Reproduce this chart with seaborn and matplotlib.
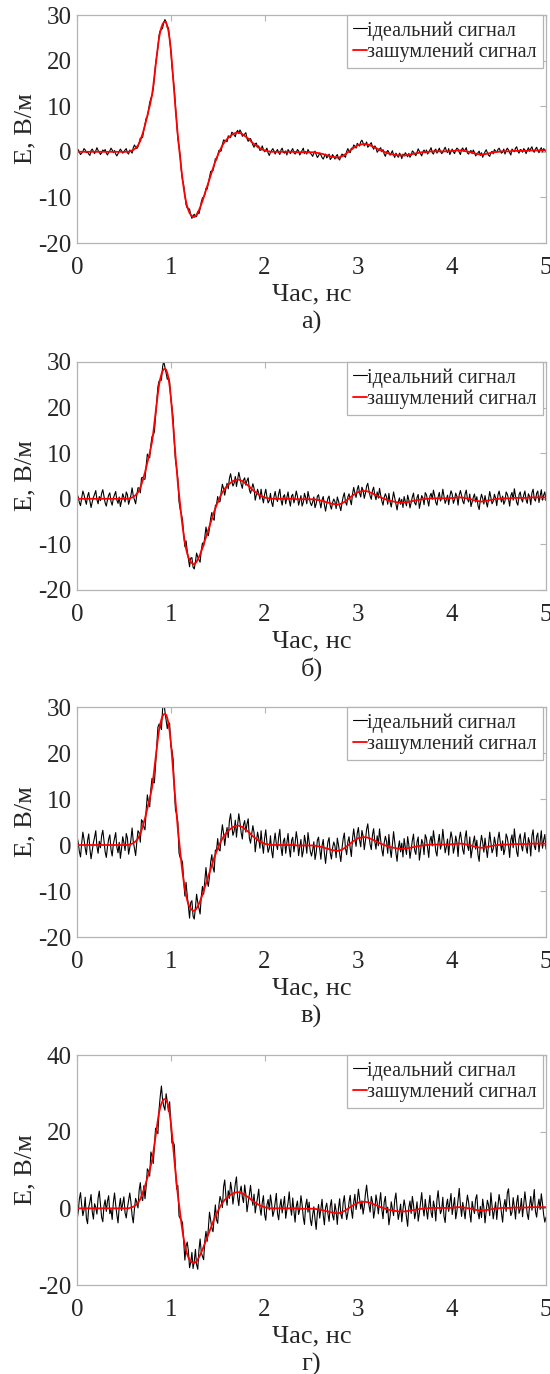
import numpy as np
import pandas as pd
import matplotlib
matplotlib.use("Agg")
import matplotlib.pyplot as plt
import seaborn as sns

# ---------------- data ----------------
# sampling grid of the recorded signals (0 ... 5 ns, 401 samples)
time_ns = np.linspace(0.0, 5.0, 401)

# smooth (red) trace, E in V/m
smooth_signal = (
    [0.0] * 45 + [0.1] +
    [0.2, 0.3, 0.4, 0.6, 0.8, 1.1, 1.4, 1.9, 2.4, 3.2,
     4.0, 4.9, 5.8, 6.9, 8.0, 9.0, 10.0, 11.2, 12.5, 14.4,
     16.5, 18.8, 21.0, 23.1, 25.0, 26.3, 27.3, 28.0, 28.4, 28.5,
     28.3, 27.6, 26.5, 24.7, 22.5, 19.4, 16.0, 12.8, 9.5, 6.5,
     3.5, 1.0, -1.5, -3.8, -6.0, -7.9, -9.6, -10.9, -12.0, -12.8,
     -13.4, -13.8, -14.1, -14.3, -14.3, -14.1, -13.8, -13.3, -12.8, -12.2,
     -11.5, -10.8, -10.0, -9.2, -8.4, -7.6, -6.8, -6.0, -5.2, -4.4,
     -3.6, -2.8, -2.1, -1.4, -0.8, -0.2, 0.4, 0.9, 1.4, 1.8,
     2.2, 2.5, 2.8, 3.1, 3.3, 3.5, 3.7, 3.9, 4.0, 4.1,
     4.2, 4.2, 4.2, 4.1, 4.0, 3.9, 3.7, 3.5, 3.3, 3.1,
     2.9, 2.7, 2.4, 2.1, 1.9, 1.7, 1.5, 1.3, 1.1, 0.9,
     0.8, 0.6, 0.5, 0.4, 0.3, 0.2, 0.2, 0.1, 0.1, 0.0,
     0.0] +
    [0.0] * 20 + [-0.1] * 14 +
    [-0.1, -0.1, -0.15, -0.2, -0.25, -0.3, -0.35, -0.4, -0.45, -0.5,
     -0.6, -0.7, -0.75, -0.8, -0.9, -1.0, -1.05, -1.1, -1.15, -1.2,
     -1.25, -1.3, -1.25, -1.2, -1.1, -1.0, -0.85, -0.7, -0.5, -0.3,
     -0.1, 0.1, 0.3, 0.5, 0.7, 0.9, 1.05, 1.2, 1.35, 1.5,
     1.55, 1.6, 1.65, 1.7, 1.7, 1.7, 1.65, 1.6, 1.5, 1.4,
     1.3, 1.2, 1.05, 0.9, 0.8, 0.7, 0.55, 0.4, 0.3, 0.2,
     0.1, 0.0, -0.1, -0.2, -0.3, -0.4, -0.45, -0.5, -0.55, -0.6,
     -0.65, -0.7, -0.75, -0.8, -0.8, -0.8, -0.8, -0.8, -0.8, -0.8,
     -0.75, -0.7, -0.65, -0.6, -0.55, -0.5, -0.45, -0.4, -0.35, -0.3,
     -0.25, -0.2, -0.15, -0.1, -0.1, -0.1, -0.05, 0.0, 0.0, 0.0] +
    [0.1] * 18 + [0.15, 0.2] +
    [0.2, 0.2, 0.25, 0.3, 0.3, 0.3, 0.3, 0.3, 0.25, 0.2,
     0.15, 0.1, 0.05, 0.0, -0.05, -0.1, -0.2, -0.3, -0.35, -0.4,
     -0.45, -0.5, -0.55, -0.6, -0.6, -0.6, -0.55, -0.5, -0.45, -0.4,
     -0.35, -0.3, -0.25, -0.2, -0.15, -0.1, -0.05, 0.0, 0.0, 0.0] +
    [0.1] * 10 + [0.2] * 14 + [0.3] * 16
)

# deviation of the black (noisy) trace from the red one, per panel (V/m)
noise_a = [
    0.2, 0.5, -0.1, -0.6, -0.3, 0.1, 0.7, 0.4, -0.2, 0.0, -0.5, -0.8, 0.3, 0.6, 0.1, -0.4, 0.2, 0.9, 0.3, -0.1,
    -0.6, -0.2, 0.4, 0.1, 0.5, -0.3, -0.7, -0.1, 0.2, 0.8, 0.4, -0.2, 0.3, -0.5, -0.9, -0.4, 0.1, 0.6, 0.2, -0.3,
    0.0, 0.4, 0.7, -0.2, -0.5, 0.3, -0.1, -0.6, 0.5, 0.9, 0.2, -0.4, -0.3, 0.1, 0.6, -0.2, -0.8, -0.1, 0.3, 0.5,
    -0.4, 0.2, 0.8, 0.5, -0.1, -0.7, -0.3, 0.4, 0.1, -0.2, 0.6, 0.3, -0.5, -0.9, 0.0, 0.5, 0.2, -0.3, 0.7, 0.1,
    -0.2, -0.6, 0.3, 0.9, 0.4, -0.1, -0.5, 0.2, 0.6, -0.4, -0.2, 0.5, 0.1, -0.7, -0.3, 0.4, 0.8, 0.0, -0.5, 0.3,
    0.6, -0.1, -0.4, 0.2, -0.8, -0.3, 0.5, 0.7, 0.1, -0.2, 0.4, -0.6, -0.1, 0.3, 0.9, 0.2, -0.5, -0.2, 0.6, -0.4,
    0.1, 0.5, -0.3, -0.7, 0.2, 0.8, 0.3, -0.1, -0.6, 0.4, 0.0, -0.4, 0.6, 0.2, -0.3, -0.8, 0.1, 0.5, -0.2, 0.7,
    0.3, -0.5, -0.1, 0.4, 0.9, -0.2, -0.6, 0.1, 0.5, 0.2, -0.4, -0.7, 0.3, 0.6, -0.1, 0.4, -0.5, -0.2, 0.8, 0.1,
    -0.3, 0.2, 0.6, -0.4, -0.9, -0.1, 0.3, 0.7, 0.2, -0.5, 0.1, 0.5, -0.2, -0.6, 0.4, 0.8, -0.1, -0.3, 0.2, -0.7,
    0.5, 0.1, -0.4, 0.3, 0.7, -0.2, -0.5, 0.0, 0.6, 0.3, -0.6, -0.1, 0.4, 0.9, -0.3, 0.2, -0.4, 0.6, 0.1, -0.2,
    -0.5, -0.9, -0.2, 0.3, -0.4, -1.0, -0.6, 0.1, -0.3, -0.8, -1.1, -0.4, 0.2, -0.6, -0.2, 0.4, -0.7, -0.3, 0.5, 0.1,
    -0.4, 0.3, 0.7, -0.2, -0.6, 0.1, 0.5, 0.2, -0.3, -0.7, 0.4, 0.8, 0.0, -0.5, 0.3, -0.1, 0.6, 0.2, -0.4, 0.5,
    0.1, -0.3, 0.6, 0.9, 0.2, -0.4, -0.1, 0.5, -0.6, -0.2, 0.3, 0.7, -0.1, -0.5, 0.4, 0.1, -0.8, -0.3, 0.2, 0.6,
    -0.2, 0.4, -0.5, -0.9, 0.1, 0.6, 0.3, -0.3, 0.2, 0.8, -0.1, -0.6, 0.4, 0.0, -0.4, 0.5, 0.2, -0.7, 0.3, -0.1,
    0.6, 0.2, -0.4, 0.3, -0.6, -0.2, 0.7, 0.4, -0.1, -0.5, 0.2, 0.9, 0.3, -0.3, -0.8, 0.1, 0.5, -0.2, 0.4, -0.5,
    -0.1, 0.3, 0.8, -0.3, -0.6, 0.2, 0.5, -0.4, 0.1, 0.7, 0.0, -0.5, -0.2, 0.4, 0.9, 0.2, -0.3, 0.6, -0.7, -0.1,
    0.4, -0.2, -0.6, 0.1, 0.5, 0.3, -0.4, -0.9, 0.2, 0.6, -0.1, 0.3, 0.8, -0.3, -0.5, 0.1, 0.4, -0.2, 0.7, 0.2,
    -0.5, -0.1, 0.3, 0.7, -0.2, 0.4, -0.6, 0.0, 0.5, 0.9, 0.2, -0.4, -0.7, 0.1, 0.3, -0.3, 0.6, 0.2, -0.1, 0.5,
    0.8, 0.1, -0.4, -0.2, 0.5, -0.6, 0.2, 0.7, 0.3, -0.3, -0.8, 0.4, 0.1, -0.2, 0.6, 0.9, -0.1, -0.5, 0.3, 0.2,
    -0.3, 0.5, 0.2, -0.6, 0.1, 0.6, -0.2, 0.4, 0.8, -0.1, -0.4, 0.3, 0.7, 0.0, -0.5, 0.2, 0.6, -0.3, 0.4, 0.1,
    -0.2,
]
noise_b = [
    1.1, 0.4, -0.8, -1.5, 0.2, 1.7, 0.9, -0.3, -1.2, 0.6, 1.4, -0.5, -1.9, -0.7, 0.3, 1.0, 1.8, -0.2, -1.1, 0.5,
    -0.4, 1.2, 2.0, 0.6, -0.9, -1.6, -0.2, 0.8, 1.3, -0.6, -1.4, 0.1, 0.9, 1.6, -0.3, -1.0, 0.4, -1.7, -0.5, 1.1,
    0.3, -0.7, 1.5, 0.9, -1.2, -0.4, 0.6, 2.1, 0.2, -0.8, -1.9, -0.3, 1.0, 0.5, -1.1, 1.4, 0.7, -0.6, -1.5, 0.4,
    1.8, 0.2, -1.0, 0.6, 1.2, -0.5, -1.8, -0.9, 0.4, 1.5, 0.8, -0.2, -1.3, 0.9, 1.9, 0.3, -0.7, -1.4, 0.1, 1.0,
    -0.6, 0.7, 1.6, -0.4, -1.2, 0.2, 0.9, -1.6, -0.8, 0.5, 1.3, 0.1, -0.9, 1.7, 0.6, -0.3, -1.5, 0.8, 1.2, -0.7,
    -1.1, 0.3, 1.9, 0.5, -0.6, -1.7, 0.2, 1.1, -0.4, 0.8, 2.2, -0.1, -1.3, -0.5, 0.9, 1.4, -0.8, -1.9, 0.6, 0.2,
    1.3, -0.5, -1.0, 0.7, 1.8, 0.4, -1.4, -0.2, 0.6, -0.9, 1.2, 2.0, 0.3, -1.1, -0.6, 0.8, -1.5, 0.1, 1.6, 0.5,
    -0.8, -1.6, 0.4, 1.1, -0.3, 0.9, 1.7, -0.7, -1.2, 0.2, 1.4, 0.6, -1.8, -0.4, 1.0, 0.3, -0.9, 1.5, -0.2, -1.3,
    0.7, 1.9, 0.2, -1.0, -0.5, 1.2, -0.8, -1.7, 0.4, 1.6, 0.1, -0.6, 1.1, 2.1, -0.3, -1.4, 0.5, 0.9, -1.1, 0.3,
    1.5, -0.4, -1.6, 0.6, 1.0, -0.9, 0.2, 1.8, 0.7, -1.3, -0.2, 0.8, -1.5, -0.7, 1.3, 0.4, -1.0, 1.7, 0.5, -0.8,
    -1.4, -0.6, 0.5, -1.8, -0.9, 0.8, 1.2, -0.3, -1.6, 0.2, 1.0, -0.7, -2.0, -0.4, 0.9, 1.5, -0.5, -1.2, 0.3, 1.1,
    0.6, -0.9, 1.7, 0.8, -0.4, -1.5, 0.1, 1.3, 2.0, -0.2, -1.1, 0.5, 1.0, -0.6, -1.8, 0.4, 1.6, 0.2, -0.9, 0.7,
    1.4, -0.3, -1.2, 0.9, 0.2, -1.6, -0.5, 1.1, 1.8, 0.3, -0.8, -1.4, 0.6, 1.5, -0.1, -1.0, 0.8, -0.4, 1.9, 0.5,
    -0.7, -1.5, 0.3, 1.2, 0.6, -0.9, 1.6, -0.2, -1.3, 0.4, 2.1, 0.8, -0.6, -1.7, 0.1, 1.0, -0.4, 0.7, -1.1, 1.3,
    0.2, -0.8, 1.5, 0.4, -1.4, -0.3, 0.9, 1.7, -0.5, -1.0, 0.6, 1.2, -1.9, -0.7, 0.8, 0.3, -1.2, 1.4, 0.9, -0.4,
    -1.6, 0.5, 1.1, -0.2, 1.8, 0.6, -0.9, -1.5, 0.3, 1.3, -0.6, 0.1, 2.0, 0.4, -1.1, -0.3, 0.7, -1.4, 0.5, 1.6,
    0.8, -1.2, -0.4, 1.0, 0.2, -1.7, 0.6, 1.5, 0.4, -0.8, -1.3, 0.9, 1.8, -0.1, -0.7, 1.1, -1.6, -0.5, 0.6, 1.4,
    -0.3, 0.9, -1.0, -1.8, 0.4, 1.6, 0.7, -0.6, 1.2, -0.2, -1.4, 0.3, 1.9, 0.5, -0.9, -0.4, 1.1, 0.2, -1.5, 0.8,
    1.7, 0.3, -0.8, 0.5, -1.3, -0.6, 1.4, 0.9, -0.1, -1.7, 0.6, 1.2, -0.5, 2.0, 0.4, -1.0, -1.6, 0.7, 1.3, -0.2,
    -0.9, 0.6, 1.5, -0.4, -1.2, 0.8, 0.2, -1.6, 1.0, 1.8, -0.3, -0.8, 0.9, 1.4, -1.1, 0.3, 1.7, -0.6, 0.5, 1.2,
    -0.7,
]
noise_c = [
    1.9, 0.6, -1.4, -2.6, 0.4, 2.8, 1.2, -0.7, -2.1, 1.0, 2.4, -0.9, -3.0, -1.2, 0.5, 1.7, 3.1, -0.3, -1.8, 0.8,
    -0.6, 2.0, 3.2, 1.0, -1.5, -2.7, -0.4, 1.3, 2.2, -1.0, -2.4, 0.2, 1.5, 2.7, -0.5, -1.7, 0.6, -2.9, -0.8, 1.8,
    0.5, -1.2, 2.5, 1.5, -2.0, -0.7, 1.0, 3.4, 0.3, -1.3, -3.1, -0.5, 1.7, 0.8, -1.8, 2.3, 1.1, -1.0, -2.5, 0.7,
    2.9, 0.3, -1.7, 1.0, 2.0, -0.8, -3.0, -1.5, 0.6, 2.5, 1.3, -0.3, -2.2, 1.5, 3.1, 0.5, -1.2, -2.3, 0.2, 1.7,
    -1.0, 1.2, 2.6, -0.7, -2.0, 0.3, 1.5, -2.7, -1.3, 0.8, 2.2, 0.2, -1.5, 2.8, 1.0, -0.5, -2.5, 1.3, 2.0, -1.2,
    -1.8, 0.5, 3.1, 0.8, -1.0, -2.8, 0.3, 1.8, -0.7, 1.3, 3.5, -0.2, -2.2, -0.8, 1.5, 2.3, -1.3, -3.1, 1.0, 0.3,
    2.2, -0.8, -1.7, 1.2, 3.0, 0.7, -2.3, -0.3, 1.0, -1.5, 2.0, 3.3, 0.5, -1.8, -1.0, 1.3, -2.5, 0.2, 2.6, 0.8,
    -1.3, -2.6, 0.7, 1.8, -0.5, 1.5, 2.8, -1.2, -2.0, 0.3, 2.3, 1.0, -3.0, -0.7, 1.7, 0.5, -1.5, 2.5, -0.3, -2.2,
    1.2, 3.1, 0.3, -1.7, -0.8, 2.0, -1.3, -2.8, 0.7, 2.6, 0.2, -1.0, 1.8, 3.4, -0.5, -2.3, 0.8, 1.5, -1.8, 0.5,
    2.5, -0.7, -2.6, 1.0, 1.7, -1.5, 0.3, 3.0, 1.2, -2.2, -0.3, 1.3, -2.5, -1.2, 2.2, 0.7, -1.7, 2.8, 0.8, -1.3,
    -2.3, -1.0, 0.8, -3.0, -1.5, 1.3, 2.0, -0.5, -2.7, 0.3, 1.7, -1.2, -3.3, -0.7, 1.5, 2.5, -0.8, -2.0, 0.5, 1.8,
    1.0, -1.5, 2.8, 1.3, -0.7, -2.5, 0.2, 2.2, 3.3, -0.3, -1.8, 0.8, 1.7, -1.0, -3.0, 0.7, 2.6, 0.3, -1.5, 1.2,
    2.3, -0.5, -2.0, 1.5, 0.3, -2.7, -0.8, 1.8, 3.0, 0.5, -1.3, -2.3, 1.0, 2.5, -0.2, -1.7, 1.3, -0.7, 3.1, 0.8,
    -1.2, -2.5, 0.5, 2.0, 1.0, -1.5, 2.7, -0.3, -2.2, 0.7, 3.5, 1.3, -1.0, -2.8, 0.2, 1.7, -0.7, 1.2, -1.8, 2.2,
    0.3, -1.3, 2.5, 0.7, -2.3, -0.5, 1.5, 2.8, -0.8, -1.7, 1.0, 2.0, -3.1, -1.2, 1.3, 0.5, -2.0, 2.3, 1.5, -0.7,
    -2.7, 0.8, 1.8, -0.3, 3.0, 1.0, -1.5, -2.5, 0.5, 2.2, -1.0, 0.2, 3.3, 0.7, -1.8, -0.5, 1.2, -2.3, 0.8, 2.7,
    1.3, -2.0, -0.7, 1.7, 0.3, -2.8, 1.0, 2.5, 0.7, -1.3, -2.2, 1.5, 3.0, -0.2, -1.2, 1.8, -2.7, -0.8, 1.0, 2.3,
    -0.5, 1.5, -1.7, -3.0, 0.7, 2.7, 1.2, -1.0, 2.0, -0.3, -2.3, 0.5, 3.1, 0.8, -1.5, -0.7, 1.8, 0.3, -2.5, 1.3,
    2.8, 0.5, -1.3, 0.8, -2.2, -1.0, 2.3, 1.5, -0.2, -2.8, 1.0, 2.0, -0.8, 3.3, 0.7, -1.7, -2.7, 1.2, 2.2, -0.3,
    -1.5, 1.0, 2.5, -0.7, -2.0, 1.3, 0.3, -2.7, 1.7, 3.0, -0.5, -1.3, 1.5, 2.3, -1.8, 0.5, 2.8, -1.0, 0.8, 2.0,
    -1.2,
]
noise_d = [
    -3.2, -1.0, 2.4, 4.1, 0.8, -1.9, -0.4, 2.9, -2.6, -4.0, 0.3, 1.7, 3.6, -0.9, -2.8, 1.2, 0.2, -1.5, 2.7, 4.5,
    1.1, -2.3, -3.5, 0.6, 2.2, -0.8, 1.9, 3.3, -1.4, -0.3, -2.9, 1.5, 4.0, 0.9, -1.7, -3.8, 0.4, 2.6, -0.6, 1.3,
    3.0, -1.2, -2.5, 0.1, 2.0, 3.9, 1.4, -2.2, -4.2, -0.7, 1.8, 0.5, -1.3, 2.8, 4.3, -0.2, -2.0, 1.0, -3.3, -1.1,
    2.3, 0.7, -1.6, 3.5, 1.2, -2.7, -0.5, 2.1, -1.0, -3.6, 0.9, 2.9, 4.6, 0.3, -1.8, -2.9, 1.6, 0.2, -1.2, 3.1,
    -0.4, -2.4, 1.3, 3.7, 0.6, -1.5, 2.5, -3.0, -1.1, 0.8, 2.2, -0.6, -3.9, 1.0, 3.2, 1.7, -2.1, -0.3, 2.6, -1.4,
    0.5, 3.4, -0.9, -2.6, 1.9, 4.2, 0.0, -1.7, -3.4, 0.7, 2.4, -1.0, 1.4, 5.0, 2.0, -0.8, -2.5, 0.4, 3.0, -1.6,
    -3.1, 0.9, 2.7, 1.1, -1.2, 3.8, 5.2, 0.6, -2.0, 1.5, -0.7, 3.3, 1.0, -2.8, -0.4, 2.3, 4.0, -1.3, -3.5, 0.2,
    1.8, -0.9, -2.2, 2.6, 0.4, -4.0, -1.5, 1.2, 3.6, 0.8, -1.1, 2.0, -2.7, -0.3, 1.7, 4.1, -0.6, -2.4, 1.0, 2.9,
    -1.9, -3.3, 0.7, 2.2, -0.5, 3.5, 1.3, -2.1, -0.8, 1.6, 3.9, -1.4, -3.0, 0.5, 2.4, -1.2, 0.9, 3.1, -2.6, -0.4,
    1.4, 4.3, 0.3, -1.8, 2.7, -0.7, -3.6, 0.6, 2.0, -1.5, -0.2, 3.4, 1.1, -2.3, -4.1, 0.8, 2.5, -0.9, 1.7, -2.8,
    -4.4, -1.6, 0.5, -2.7, -5.3, -1.0, 1.3, -2.2, 0.4, 2.8, -1.3, -3.7, 0.9, 2.1, -0.6, -2.5, 1.6, 3.3, -0.8, -1.9,
    2.4, 0.6, -2.9, 1.2, 3.7, -0.4, -1.7, 2.3, 4.0, 0.2, -2.6, -1.1, 1.5, 3.1, -0.9, -3.3, 0.7, 2.6, -1.5, 0.4,
    3.5, 1.0, -1.8, 0.3, -3.2, -1.2, 2.1, 4.4, 1.3, -0.7, -2.4, 1.8, 0.5, -3.6, -1.4, 2.7, 0.9, -2.0, 1.2, 3.8,
    -0.5, -2.8, 1.6, 3.2, -1.0, 0.6, -3.9, -1.7, 2.2, 0.4, -1.3, 2.9, 4.7, 0.8, -2.1, -0.3, 1.9, -2.7, 0.5, 3.0,
    1.1, -1.6, -4.0, 0.9, 2.5, -0.8, 3.6, 1.4, -2.3, -0.6, 2.0, -3.1, -1.0, 1.7, 4.2, 0.3, -1.9, 2.4, -0.4, -2.8,
    0.7, 3.3, -1.2, -2.5, 1.8, 0.2, -3.4, 2.1, 4.5, 1.0, -1.5, -0.5, 2.8, -2.2, -3.8, 0.6, 2.3, -0.9, 1.5, 3.7,
    -1.8, 0.4, 2.6, -3.0, -1.1, 1.9, 4.9, 0.5, -2.4, 1.3, -0.7, -2.9, 0.8, 3.4, 1.6, -1.4, -3.5, 2.0, 0.3, -1.0,
    2.9, 4.0, -0.6, -2.2, 1.1, -1.8, 3.0, 0.7, -3.3, -0.2, 2.5, 1.2, -1.6, 4.3, 0.9, -2.6, -0.4, 1.7, -2.9, 0.6,
    3.6, 1.5, -1.3, -3.7, 0.4, 2.2, -0.9, 3.9, 5.0, 0.8, -2.0, -1.2, 2.6, 0.1, -3.0, 1.4, 3.2, -1.5, -0.5, 2.4,
    -2.4, 0.9, 4.1, 1.2, -1.7, -3.2, 0.5, 2.8, -0.8, 1.6, 4.6, -1.1, -2.6, 0.3, 2.1, -0.6, 3.5, 1.0, -2.0, -3.9,
    -2.6,
]

panel_noise = [noise_a, noise_b, noise_c, noise_d]
panel_captions = ["а)", "б)", "в)", "г)"]
panel_ylims = [(-20, 30), (-20, 30), (-20, 30), (-20, 40)]
panel_yticks = [[-20, -10, 0, 10, 20, 30]] * 3 + [[-20, 0, 20, 40]]
xticks = [0, 1, 2, 3, 4, 5]
label_black = "ідеальний сигнал"
label_red = "зашумлений сигнал"

for n in panel_noise:
    assert len(n) == 401, len(n)
assert len(smooth_signal) == 401, len(smooth_signal)

# ---------------- style ----------------
sns.set_style("white")
plt.rcParams["font.family"] = ["Liberation Serif", "DejaVu Serif"]
plt.rcParams["axes.unicode_minus"] = False

W, H = 550, 1374
fig = plt.figure(figsize=(W / 100, H / 100), dpi=100)

# axes boxes in pixels: (top, bottom)
boxes = [(15, 243), (362, 590), (707, 937), (1055, 1285)]
ax_left, ax_right = 77, 546
frame_col = "#b4b4b4"
text_col = "#262626"

smooth = np.array(smooth_signal)
for k, (top, bot) in enumerate(boxes):
    ax = fig.add_axes([ax_left / W, 1 - bot / H, (ax_right - ax_left) / W, (bot - top) / H])
    noisy = smooth + np.array(panel_noise[k])
    df = pd.DataFrame({"t": time_ns, "noisy": noisy, "smooth": smooth})
    sns.lineplot(data=df, x="t", y="noisy", ax=ax, color="black", lw=0.8,
                 label=label_black, estimator=None, sort=False)
    sns.lineplot(data=df, x="t", y="smooth", ax=ax, color="#ff0000", lw=1.3,
                 label=label_red, estimator=None, sort=False)
    ax.set_xlim(0, 5)
    ax.set_ylim(*panel_ylims[k])
    ax.set_xticks(xticks)
    ax.set_yticks(panel_yticks[k])
    ax.tick_params(direction="in", length=4, width=0.8, color=frame_col,
                   top=True, right=True, labelsize=18, labelcolor=text_col, pad=4)
    ax.tick_params(axis="x", pad=10)
    for s in ax.spines.values():
        s.set_color(frame_col)
        s.set_linewidth(0.9)
    ax.set_xlabel("Час, нс", fontsize=19, color=text_col, labelpad=3)
    ax.set_ylabel("E, В/м", fontsize=19, color=text_col, labelpad=1)
    leg = ax.legend(loc="upper right", bbox_to_anchor=(1 - 3 / (ax_right - ax_left), 1.0),
                    fontsize=14.5, frameon=True, fancybox=False,
                    framealpha=1, edgecolor=frame_col, handlelength=0.7,
                    handletextpad=0.0, borderpad=0.3, labelspacing=0.1,
                    borderaxespad=0.0)
    leg.get_frame().set_linewidth(0.9)
    ax.text(0.5, -79 / (bot - top), panel_captions[k], transform=ax.transAxes,
            ha="center", va="center", fontsize=19, color=text_col)

fig.savefig("out.png", dpi=100)
